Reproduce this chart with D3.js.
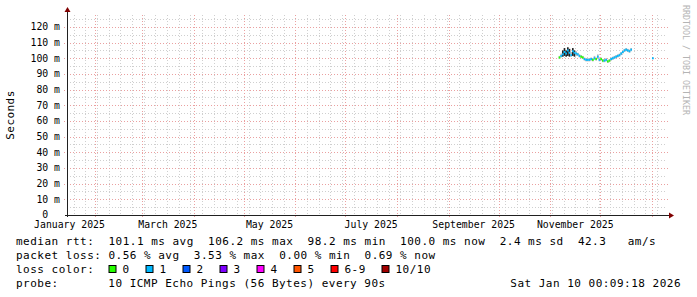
<!DOCTYPE html>
<html>
<head>
<meta charset="utf-8">
<script src="https://cdn.jsdelivr.net/npm/d3@7"></script>
<style>
    body { margin: 0; background: #fff; }
    svg { display: block; }
    text { font-family: "DejaVu Sans Mono", monospace; fill: #000; white-space: pre; }
</style>
</head>
<body>
<svg id="chart"></svg>
<script>
// sample days (one consolidated row per day), median rtt in ms, lost pings of 10
var sampleDays = ["2025-11-06", "2025-11-07", "2025-11-08", "2025-11-09", "2025-11-10", "2025-11-11",
    "2025-11-12", "2025-11-13", "2025-11-14", "2025-11-15", "2025-11-16", "2025-11-17", "2025-11-18",
    "2025-11-19", "2025-11-20", "2025-11-21", "2025-11-22", "2025-11-23", "2025-11-24", "2025-11-25",
    "2025-11-26", "2025-11-27", "2025-11-28", "2025-11-29", "2025-11-30", "2025-12-01", "2025-12-02",
    "2025-12-03", "2025-12-04", "2025-12-05", "2025-12-06", "2025-12-07", "2025-12-08", "2025-12-09",
    "2025-12-10", "2025-12-11", "2025-12-12", "2025-12-13", "2025-12-14", "2025-12-15", "2025-12-16",
    "2025-12-17", "2025-12-18", "2025-12-19", "2026-01-01"];
var medianMs = [100.5, 101.5, 102.5, 104.0, 103.0, 105.0, 103.5, 102.0, 104.5, 103.5, 103.0, 102.5,
    101.5, 101.0, 100.5, 99.5, 99.0, 99.0, 99.0, 99.5, 99.0, 100.0, 99.5, 101.0, 99.0, 99.5, 98.5, 98.5,
    99.0, 98.0, 98.5, 99.5, 100.0, 100.5, 101.0, 101.5, 102.0, 103.0, 104.0, 105.0, 105.5, 105.0, 104.5,
    105.5, 100.0];
var smokeLowMs = [99.5, 100.5, 101.0, 101.5, 101.0, 101.5, 101.0, 101.0, 101.5, 101.0, 101.5, 101.5,
    100.5, 100.0, 99.5, 98.5, 98.0, 98.0, 98.0, 98.5, 98.0, 99.0, 98.5, 99.5, 98.0, 98.5, 97.5, 97.5,
    98.0, 97.0, 97.5, 98.5, 99.0, 99.5, 100.0, 100.5, 101.0, 102.0, 103.0, 104.0, 104.5, 104.0, 103.5,
    104.5, 99.5];
var smokeHighMs = [101.5, 103.0, 105.0, 106.5, 105.0, 107.0, 106.0, 104.0, 106.5, 105.0, 104.5, 103.5,
    102.5, 102.0, 101.5, 100.5, 100.0, 100.0, 100.0, 100.5, 100.0, 101.5, 100.5, 102.5, 100.0, 100.5,
    99.5, 99.5, 100.0, 99.0, 99.5, 100.5, 101.0, 101.5, 102.0, 102.5, 103.0, 104.0, 105.0, 106.0, 106.5,
    106.0, 105.5, 106.5, 100.5];
var lossCount = [0, 1, 1, 1, 1, 1, 1, 1, 1, 1, 1, 1, 1, 0, 0, 1, 1, 1, 1, 1, 0, 1, 0, 1, 1, 0, 0, 1, 1,
    0, 0, 1, 1, 1, 1, 1, 1, 1, 1, 1, 1, 1, 1, 1, 1];

var yTickValues = [0, 10, 20, 30, 40, 50, 60, 70, 80, 90, 100, 110, 120];
var monthLabels = ["2025-01-01", "2025-03-01", "2025-05-01", "2025-07-01", "2025-09-01", "2025-11-01"];

var legendLines = [
    "median rtt:  101.1 ms avg  106.2 ms max  98.2 ms min  100.0 ms now  2.4 ms sd  42.3   am/s",
    "packet loss: 0.56 % avg  3.53 % max  0.00 % min  0.69 % now"
];
var lossNames = ["0", "1", "2", "3", "4", "5", "6-9", "10/10"];
var lossColors = ["#26ff00", "#00b8ff", "#0059ff", "#7e00ff", "#ff00ff", "#ff5500", "#ff0000", "#a10000"];
var probeText = "10 ICMP Echo Pings (56 Bytes) every 90s";
var stampText = "Sat Jan 10 00:09:18 2026";

var cfg = {
    "width": 697,
    "height": 297,
    "left": 67,
    "right": 667,
    "top": 15,
    "bottom": 215,
    "yMax": 127.6,
    "charW": 7.1
};

var svg = d3.select("#chart").attr("width", cfg.width).attr("height", cfg.height);
var parseDay = d3.timeParse("%Y-%m-%d");
var endTime = new Date(2026, 0, 10, 0, 9, 18);
var startTime = new Date(endTime.getTime() - 360 * 86400000);

var x = d3.scaleTime().domain([startTime, endTime]).range([cfg.left, cfg.right]);
var y = d3.scaleLinear().domain([0, cfg.yMax]).range([cfg.bottom, cfg.top]);

/**
 * grid lines, minor grey then major red
 */
var drawGrid = function () {
    var g = svg.append("g").attr("shape-rendering", "crispEdges");
    var minorY = d3.range(5, cfg.yMax, 5);
    var majorY = yTickValues.filter(function (d) { return d > 0; });
    var weeks = d3.timeSunday.range(startTime, endTime);
    var months = d3.timeMonth.range(startTime, endTime);
    var minorColor = "#cfcfcf", majorColor = "#eaa0a0";

    g.selectAll("line.vmin").data(weeks).enter().append("line")
        .attr("x1", function (d) { return Math.round(x(d)) + 0.5; })
        .attr("x2", function (d) { return Math.round(x(d)) + 0.5; })
        .attr("y1", cfg.top).attr("y2", cfg.bottom)
        .attr("stroke", minorColor).attr("stroke-dasharray", "1,2");
    g.selectAll("line.hmin").data(minorY).enter().append("line")
        .attr("x1", cfg.left).attr("x2", cfg.right)
        .attr("y1", function (d) { return Math.round(y(d)) + 0.5; })
        .attr("y2", function (d) { return Math.round(y(d)) + 0.5; })
        .attr("stroke", minorColor).attr("stroke-dasharray", "1,2");
    g.selectAll("line.vmaj").data(months).enter().append("line")
        .attr("x1", function (d) { return Math.round(x(d)) + 0.5; })
        .attr("x2", function (d) { return Math.round(x(d)) + 0.5; })
        .attr("y1", cfg.top).attr("y2", cfg.bottom + 3)
        .attr("stroke", majorColor).attr("stroke-dasharray", "1,2");
    g.selectAll("line.hmaj").data(majorY).enter().append("line")
        .attr("x1", cfg.left - 3).attr("x2", cfg.right + 3)
        .attr("y1", function (d) { return Math.round(y(d)) + 0.5; })
        .attr("y2", function (d) { return Math.round(y(d)) + 0.5; })
        .attr("stroke", majorColor).attr("stroke-dasharray", "1,2");
};

/**
 * smoke and median band
 */
var drawData = function () {
    var g = svg.append("g");
    var step = x(parseDay("2025-11-07")) - x(parseDay("2025-11-06"));
    g.selectAll("rect.smoke").data(sampleDays).enter().append("rect")
        .attr("x", function (d) { return x(parseDay(d)); })
        .attr("width", step)
        .attr("y", function (d, i) { return y(smokeHighMs[i]); })
        .attr("height", function (d, i) { return y(smokeLowMs[i]) - y(smokeHighMs[i]); })
        .attr("fill", function (d, i) { return smokeHighMs[i] - smokeLowMs[i] > 3 ? "#222" : "#bbb"; });
    g.selectAll("rect.median").data(sampleDays).enter().append("rect")
        .attr("x", function (d) { return x(parseDay(d)); })
        .attr("width", step)
        .attr("y", function (d, i) { return y(medianMs[i]) - 1; })
        .attr("height", 2)
        .attr("fill", function (d, i) { return lossColors[lossCount[i]]; });
};

/**
 * axes, ticks and arrows
 */
var drawAxis = function () {
    var g = svg.append("g");
    g.append("line").attr("x1", cfg.left - 2).attr("x2", cfg.right + 2)
        .attr("y1", cfg.bottom + 0.5).attr("y2", cfg.bottom + 0.5)
        .attr("stroke", "#202020").attr("shape-rendering", "crispEdges");
    g.append("line").attr("x1", cfg.left + 0.5).attr("x2", cfg.left + 0.5)
        .attr("y1", cfg.bottom + 2).attr("y2", cfg.top - 3)
        .attr("stroke", "#202020").attr("shape-rendering", "crispEdges");
    g.append("path").attr("d", "M" + (cfg.right + 7) + "," + (cfg.bottom + 0.5) + "l-5,-3v6z").attr("fill", "#800000");
    g.append("path").attr("d", "M" + (cfg.left + 0.5) + "," + (cfg.top - 8) + "l-3,5h6z").attr("fill", "#800000");

    // y labels
    g.selectAll("text.ylab").data(yTickValues).enter().append("text")
        .attr("x", function (d) { return d === 0 ? 60 - 2 * 5.9 : 60; })
        .attr("y", function (d) { return y(d * 1.0); })
        .attr("dy", "0.35em")
        .attr("text-anchor", "end")
        .attr("font-size", "9.8px")
        .text(function (d) { return d === 0 ? "0" : d + " m"; });

    // x labels, centered in their month
    g.selectAll("text.xlab").data(monthLabels).enter().append("text")
        .attr("x", function (d) {
            var m = parseDay(d);
            return (x(m) + x(d3.timeMonth.offset(m, 1))) / 2;
        })
        .attr("y", 228)
        .attr("text-anchor", "middle")
        .attr("font-size", "9.8px")
        .text(function (d) { return d3.timeFormat("%B %Y")(parseDay(d)); });

    svg.append("text")
        .attr("transform", "translate(14," + ((cfg.top + cfg.bottom) / 2) + ") rotate(-90)")
        .attr("text-anchor", "middle")
        .attr("font-size", "11px")
        .attr("letter-spacing", "0.45px")
        .text("Seconds");

    svg.append("text")
        .attr("transform", "translate(683,5) rotate(90)")
        .attr("font-size", "8.3px")
        .style("fill", "#b4b4b4")
        .text("RRDTOOL / TOBI OETIKER");
};

/**
 * legend rows
 */
var drawLegend = function () {
    var g = svg.append("g").attr("font-size", "11px").attr("letter-spacing", "0.49px");
    legendLines.forEach(function (t, i) {
        g.append("text").attr("x", 16).attr("y", 245 + i * 14).text(t);
    });
    g.append("text").attr("x", 16).attr("y", 273).text("loss color:");
    var boxX = function (i) { return i < 7 ? 108.5 + 37 * i : 381.5; };
    g.selectAll("rect.lc").data(lossNames).enter().append("rect")
        .attr("x", function (d, i) { return boxX(i) + 0.5; })
        .attr("y", 265.5)
        .attr("width", 7).attr("height", 7)
        .attr("fill", function (d, i) { return lossColors[i]; })
        .attr("stroke", "#000");
    g.selectAll("text.lc").data(lossNames).enter().append("text")
        .attr("x", function (d, i) { return boxX(i) + 14; })
        .attr("y", 273)
        .text(function (d) { return d; });
    g.append("text").attr("x", 16).attr("y", 287).text("probe:");
    g.append("text").attr("x", 16 + 13 * cfg.charW).attr("y", 287).text(probeText);
    g.append("text").attr("x", 681).attr("y", 287).attr("text-anchor", "end").text(stampText);
};

drawGrid();
drawData();
drawAxis();
drawLegend();
</script>
</body>
</html>
